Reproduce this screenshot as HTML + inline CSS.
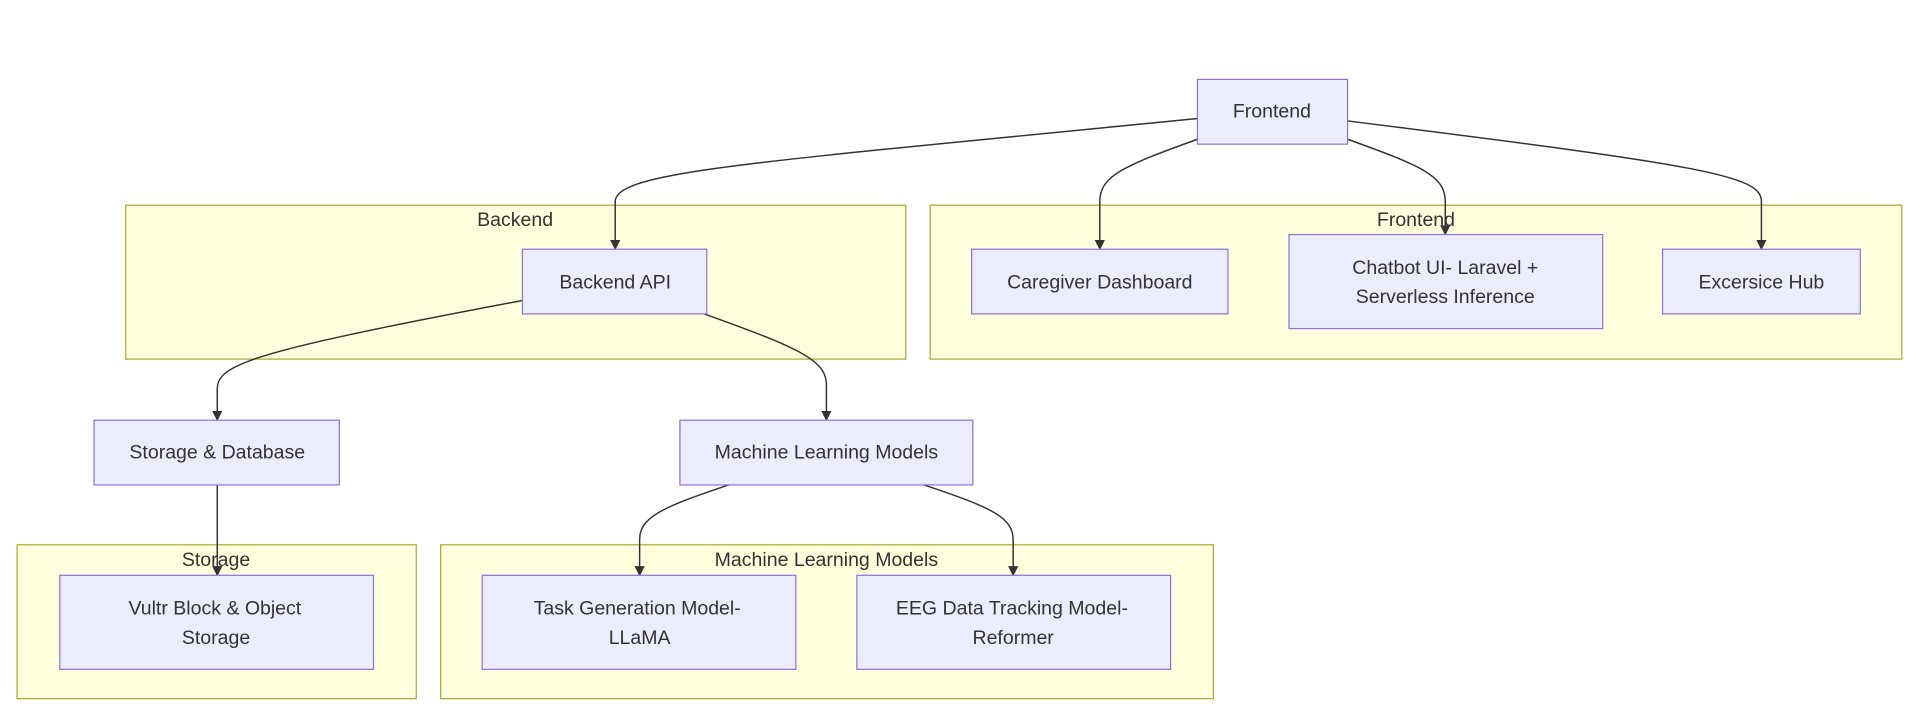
<!DOCTYPE html>
<html><head><meta charset="utf-8"><style>
html,body{margin:0;padding:0;background:#fff;width:1914px;height:728px;overflow:hidden}
svg{display:block}
text{font-family:"Liberation Sans",Arial,sans-serif;font-size:16px;fill:#333;text-anchor:middle;dominant-baseline:middle}
.c{fill:#ffffde;stroke:#aaaa33;stroke-width:1}
.n{fill:#ececff;stroke:#9370db;stroke-width:1}
.e{fill:none;stroke:#333;stroke-width:1.2}
</style></head><body>
<svg width="1914" height="728" viewBox="0 0 1568 596" preserveAspectRatio="none">
<defs><marker id="a" viewBox="0 0 10 10" refX="9" refY="5" markerWidth="7" markerHeight="7" orient="auto"><path d="M0,0L10,5L0,10z" fill="#333"/></marker></defs>
<rect class="c" x="103" y="168" width="639" height="126"/><text x="422" y="181">Backend</text>
<rect class="c" x="762" y="168" width="796" height="126"/><text x="1160" y="181">Frontend</text>
<rect class="c" x="14" y="446" width="327" height="126"/>
<rect class="c" x="361" y="446" width="633" height="126"/>
<path class="e" marker-end="url(#a)" d="M981,97 C620,133 504,140 504,165 L504,204"/>
<path class="e" marker-end="url(#a)" d="M981,114 C920,136 901,144 901,165 L901,204"/>
<path class="e" marker-end="url(#a)" d="M1104,114 C1165,136 1184,144 1184,165 L1184,192"/>
<path class="e" marker-end="url(#a)" d="M1104,99 C1400,136 1443,144 1443,165 L1443,204"/>
<path class="e" marker-end="url(#a)" d="M428,246 C210,287 178,298 178,318 L178,344"/>
<path class="e" marker-end="url(#a)" d="M577,257 C655,285 677,295 677,315 L677,344"/>
<path class="e" marker-end="url(#a)" d="M178,397 L178,471"/>
<path class="e" marker-end="url(#a)" d="M597,397 C540,416 524,424 524,442 L524,471"/>
<path class="e" marker-end="url(#a)" d="M757,397 C814,416 830,424 830,442 L830,471"/>
<text x="177" y="459">Storage</text><text x="677" y="459">Machine Learning Models</text>
<rect class="n" x="981" y="65" width="123" height="53"/><text x="1042" y="92">Frontend</text>
<rect class="n" x="428" y="204" width="151" height="53"/><text x="504" y="232">Backend API</text>
<rect class="n" x="796" y="204" width="210" height="53"/><text x="901" y="232">Caregiver Dashboard</text>
<rect class="n" x="1056" y="192" width="257" height="77"/><text x="1184" y="220">Chatbot UI- Laravel +</text><text x="1184" y="244">Serverless Inference</text>
<rect class="n" x="1362" y="204" width="162" height="53"/><text x="1443" y="232">Excersice Hub</text>
<rect class="n" x="77" y="344" width="201" height="53"/><text x="178" y="371">Storage &amp; Database</text>
<rect class="n" x="557" y="344" width="240" height="53"/><text x="677" y="371">Machine Learning Models</text>
<rect class="n" x="49" y="471" width="257" height="77"/><text x="176" y="499">Vultr Block &amp; Object</text><text x="177" y="523">Storage</text>
<rect class="n" x="395" y="471" width="257" height="77"/><text x="522" y="499">Task Generation Model-</text><text x="524" y="523">LLaMA</text>
<rect class="n" x="702" y="471" width="257" height="77"/><text x="829" y="499">EEG Data Tracking Model-</text><text x="830" y="523">Reformer</text>
</svg>
</body></html>
